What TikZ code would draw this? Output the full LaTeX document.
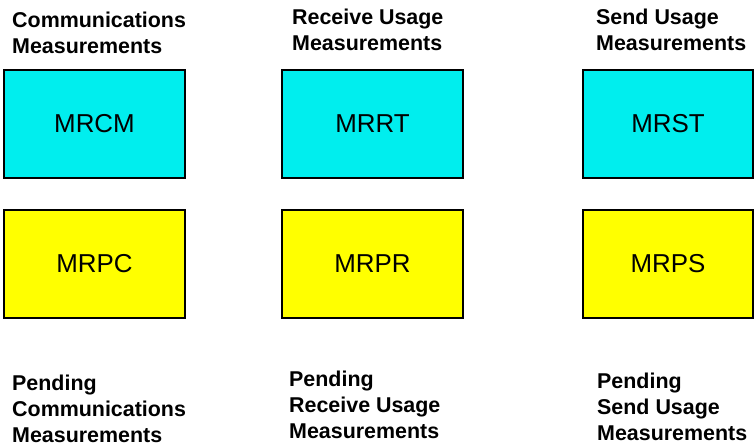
\documentclass[tikz,border=0pt]{standalone}
\usepackage{fontspec}
\setmainfont{Liberation Sans}
\definecolor{boxcyan}{RGB}{0,238,238}
\definecolor{boxyellow}{RGB}{255,255,0}
\begin{document}
\begin{tikzpicture}[x=1bp,y=-1bp,
  regbox/.style={draw=black,line width=2bp,minimum width=181bp,minimum height=108bp,inner sep=0,font=\fontsize{26}{30}\selectfont},
  cyanbox/.style={regbox,fill=boxcyan},
  yellowbox/.style={regbox,fill=boxyellow},
  caption/.style={anchor=west,align=left,inner sep=0,font=\fontsize{21.5}{26}\selectfont\bfseries}]
\useasboundingbox (0,0) rectangle (754,444);
\begin{scope}
\clip (0,0) rectangle (754,444);
\node[cyanbox] (mrcm) at (94.5,124) {MRCM};
\node[cyanbox] (mrrt) at (372.5,124) {MRRT};
\node[cyanbox,minimum width=170bp] (mrst) at (668,124) {MRST};
\node[yellowbox] (mrpc) at (94.5,264) {MRPC};
\node[yellowbox] (mrpr) at (372.5,264) {MRPR};
\node[yellowbox,minimum width=170bp] (mrps) at (668,264) {MRPS};
\end{scope}
\node[caption] (t1) at (12,33) {Communications\\Measurements};
\node[caption] (t2) at (292,30) {Receive Usage\\Measurements};
\node[caption] (t3) at (596,30) {Send Usage\\Measurements};
\node[caption] (b1) at (12,409) {Pending\\Communications\\Measurements};
\node[caption] (b2) at (289,405) {Pending\\Receive Usage\\Measurements};
\node[caption] (b3) at (597,407) {Pending\\Send Usage\\Measurements};
\end{tikzpicture}
\end{document}
